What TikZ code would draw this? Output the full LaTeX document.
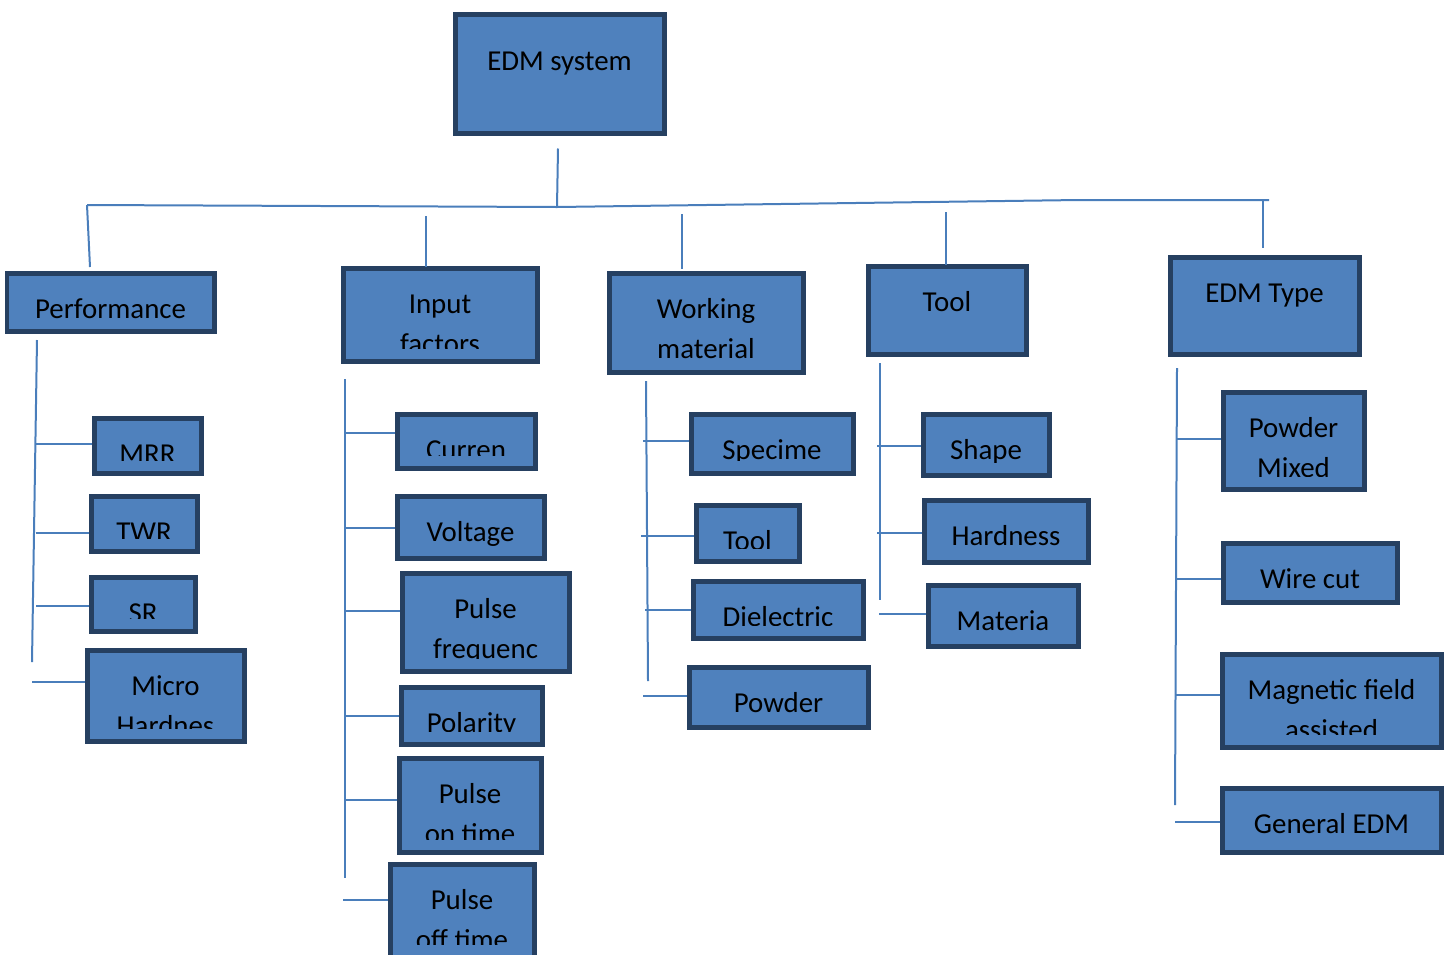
\documentclass[tikz,border=0pt]{standalone}
\usepackage{fontspec}
\setmainfont{Carlito}
\usetikzlibrary{fit}
\definecolor{edmfill}{HTML}{4F81BD}
\definecolor{edmedge}{HTML}{264061}
\definecolor{edmlink}{HTML}{4A7EBB}

\begin{document}
\begin{tikzpicture}[x=0.02cm,y=-0.02cm,
    lbl drop/.initial=0.3cm,
    lbl/.style={draw=none,fill=none,inner sep=0pt,minimum size=0pt,
      text height={},text depth={},text width={},anchor=north,align=center,
      font=\fontsize{16.44}{22.68}\selectfont},
    blk/.style={draw=edmedge,fill=edmfill,line width=0.1cm,inner sep=0pt,
      path picture={
        \clip ([yshift=0.26cm]path picture bounding box.south west)
          rectangle (path picture bounding box.north east);
        \node[lbl] at ([yshift=-\pgfkeysvalueof{/tikz/lbl drop}]path picture bounding box.north) {\strut#1};}},
    link/.style={draw=edmlink,line width=0.04cm}]
  \useasboundingbox (0,0) rectangle (1446,954);

  % top box and main branches
  \node[blk={EDM system},lbl drop=0.52cm,fit={(455,14) (664,133)}] (sys) {};
  \node[blk={Performance},fit={(7,273) (214,331)}] (perf) {};
  \node[blk={Input\\factors},fit={(343,268) (537,361)}] (inp) {};
  \node[blk={Working\\material},fit={(609,273) (803,372)}] (work) {};
  \node[blk={Tool},fit={(868,266) (1026,354)}] (tool) {};
  \node[blk={EDM Type},fit={(1170,257) (1359,354)}] (etype) {};

  % performance
  \node[blk={MRR},fit={(94,418) (201,473)}] (mrr) {};
  \node[blk={TWR},fit={(91,496) (197,551)}] (twr) {};
  \node[blk={SR},fit={(91,577) (195,631)}] (sr) {};
  \node[blk={Micro\\Hardnes},fit={(87,650) (244,741)}] (micro) {};

  % input factors
  \node[blk={Curren},fit={(397,414) (535,468)}] (cur) {};
  \node[blk={Voltage},fit={(397,496) (544,558)}] (volt) {};
  \node[blk={Pulse\\frequenc},fit={(402,573) (569,671)}] (pfreq) {};
  \node[blk={Polarity},fit={(401,687) (542,744)}] (pol) {};
  \node[blk={Pulse\\on time},fit={(399,758) (541,852)}] (pon) {};
  \node[blk={Pulse\\off time},fit={(390,864) (534,957)}] (poff) {};

  % working material
  \node[blk={Specime},fit={(691,414) (853,473)}] (spec) {};
  \node[blk={Tool},fit={(696,505) (799,561)}] (wtool) {};
  \node[blk={Dielectric},fit={(693,581) (863,638)}] (diel) {};
  \node[blk={Powder},fit={(689,667) (868,727)}] (powd) {};

  % tool
  \node[blk={Shape},fit={(923,414) (1049,475)}] (shape) {};
  \node[blk={Hardness},fit={(924,500) (1088,562)}] (hard) {};
  \node[blk={Materia},fit={(928,585) (1078,646)}] (mater) {};

  % EDM type
  \node[blk={Powder\\Mixed},fit={(1223,392) (1364,489)}] (pmix) {};
  \node[blk={Wire cut},fit={(1223,543) (1397,602)}] (wire) {};
  \node[blk={Magnetic field\\assisted},fit={(1222,654) (1441,747)}] (magn) {};
  \node[blk={General EDM},fit={(1222,788) (1441,852)}] (gen) {};

  % bus
  \coordinate (busL) at (87,205);
  \coordinate (busM) at (557,207);
  \coordinate (busR) at (1269,200);
  \draw[link] ([xshift=-0.03cm,yshift=-0.26cm]sys.south) -- (busM);
  \draw[link] (busL) -- (busM) -- (1079,200) -- (busR);
  \draw[link] (busL) -- (90,267);
  \draw[link] (426,216) -- (426,267);
  \draw[link] (682,214) -- (682,269);
  \draw[link] (946,212) -- (946,265);
  \draw[link] (1263,200) -- (1263,248);

  % trunks and branches
  \draw[link] (37,340) -- (32,662);
  \foreach \y/\n in {444/mrr,533/twr,606/sr}
    \draw[link] (36,\y) -- (36,\y -| \n.west);
  \draw[link] (32,682) -- (32,682 -| micro.west);

  \draw[link] (345,379) -- (345,878);
  \foreach \y/\n in {433/cur,528/volt,611/pfreq,716/pol,800/pon}
    \draw[link] (345,\y) -- (345,\y -| \n.west);
  \draw[link] (343,900) -- (343,900 -| poff.west);

  \draw[link] (646,381) -- (648,681);
  \foreach \x/\y/\n in {643/441/spec,641/536/wtool,645/610/diel,643/696/powd}
    \draw[link] (\x,\y) -- (\x,\y -| \n.west);

  \draw[link] (880,363) -- (880,600);
  \foreach \x/\y/\n in {877/446/shape,877/533/hard,879/614/mater}
    \draw[link] (\x,\y) -- (\x,\y -| \n.west);

  \draw[link] (1177,368) -- (1175,805);
  \foreach \x/\y/\n in {1177/439/pmix,1177/579/wire,1175/695/magn,1175/822/gen}
    \draw[link] (\x,\y) -- (\x,\y -| \n.west);
\end{tikzpicture}
\end{document}
